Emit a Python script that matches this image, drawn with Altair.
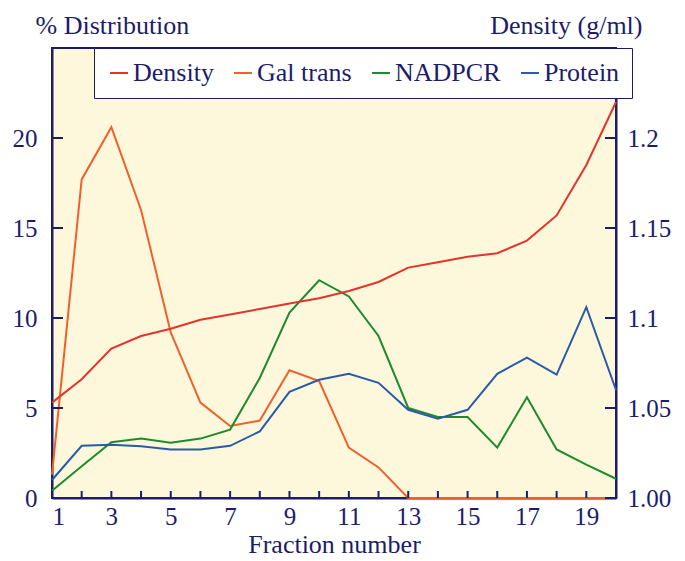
import altair as alt
import pandas as pd

# ---- data ----
fractions = list(range(1, 21))
density = [1.053, 1.066, 1.083, 1.090, 1.094, 1.099, 1.102, 1.105, 1.108, 1.111,
           1.115, 1.120, 1.128, 1.131, 1.134, 1.136, 1.143, 1.157, 1.185, 1.220]
gal_trans = [1.3, 17.7, 20.6, 16.0, 9.2, 5.3, 4.0, 4.3, 7.1, 6.5,
             2.8, 1.7, 0, 0, 0, 0, 0, 0, 0, 0]
nadpcr = [0.4, 1.76, 3.1, 3.3, 3.07, 3.3, 3.8, 6.67, 10.3, 12.1,
          11.2, 9.0, 5.0, 4.5, 4.5, 2.8, 5.6, 2.7, 1.85, 1.07]
protein = [1.0, 2.9, 2.96, 2.87, 2.7, 2.7, 2.9, 3.7, 5.9, 6.57,
           6.9, 6.4, 4.9, 4.4, 4.9, 6.9, 7.8, 6.85, 10.6, 6.0]

series_names = ["Density", "Gal trans", "NADPCR", "Protein"]
series_colors = ["#e3342c", "#f0602c", "#1e8a2e", "#2b5ba8"]

left_ticks = [5, 10, 15, 20]
right_ticks = [1.0, 1.05, 1.1, 1.15, 1.2]
x_ticks = list(range(1, 21))

NAVY = "#1c1c6b"
FONT = "Liberation Serif"
W, H = 564, 450

left_df = pd.DataFrame(
    [{"fraction": f, "series": "Gal trans", "value": v} for f, v in zip(fractions, gal_trans)]
    + [{"fraction": f, "series": "NADPCR", "value": v} for f, v in zip(fractions, nadpcr)]
    + [{"fraction": f, "series": "Protein", "value": v} for f, v in zip(fractions, protein)]
)
right_df = pd.DataFrame({"fraction": fractions, "series": "Density", "value": density})
lt_df = pd.DataFrame({"value": left_ticks})
rt_df = pd.DataFrame({"value": right_ticks})
xt_df = pd.DataFrame({"fraction": x_ticks})

x_enc = alt.X(
    "fraction:Q",
    scale=alt.Scale(domain=[1, 20], nice=False, zero=False),
    axis=alt.Axis(
        values=x_ticks, ticks=False, grid=False,
        labelExpr="datum.value % 2 == 1 ? datum.label : ''",
        title="Fraction number", labelPadding=6, titlePadding=2,
    ),
)

y_left = alt.Y(
    "value:Q",
    scale=alt.Scale(domain=[0, 25], nice=False, zero=False),
    axis=alt.Axis(
        orient="left", values=[0, 5, 10, 15, 20], ticks=False, grid=False,
        labelPadding=15, title="% Distribution", titleAngle=0, titleAlign="left",
        titleBaseline="alphabetic", titleX=-17, titleY=-15,
    ),
)

y_right = alt.Y(
    "value:Q",
    scale=alt.Scale(domain=[1.0, 1.25], nice=False, zero=False),
    axis=alt.Axis(
        orient="right", values=right_ticks, ticks=False, grid=False,
        labelPadding=11, title="Density (g/ml)", titleAngle=0, titleAlign="right",
        titleBaseline="alphabetic", titleX=26, titleY=-15,
        labelExpr="datum.value < 1.001 ? '1.00' : toString(round(datum.value * 100) / 100)",
    ),
)

legend = alt.Legend(
    orient="none", legendX=42, legendY=0, direction="horizontal", title=None,
    symbolType="stroke", symbolSize=324, symbolStrokeWidth=2,
    labelFontSize=26, labelFont=FONT, labelColor=NAVY, labelOffset=1,
    fillColor="white", strokeColor=NAVY, padding=12, columnPadding=16,
)
color_enc = alt.Color(
    "series:N",
    scale=alt.Scale(domain=series_names, range=series_colors),
    legend=legend,
)

lines_left = alt.Chart(left_df).mark_line(strokeWidth=2).encode(
    x=x_enc, y=y_left, color=color_enc
)
ticks_left = alt.Chart(lt_df).mark_rule(color=NAVY, strokeWidth=2).encode(
    y=y_left, x=alt.value(0), x2=alt.value(11)
)
ticks_bottom = alt.Chart(xt_df).mark_rule(color=NAVY, strokeWidth=2).encode(
    x=x_enc, y=alt.value(H), y2=alt.value(H - 7)
)

line_right = alt.Chart(right_df).mark_line(strokeWidth=2).encode(
    x=x_enc, y=y_right, color=color_enc
)
ticks_right = alt.Chart(rt_df).mark_rule(color=NAVY, strokeWidth=2).encode(
    y=y_right, x=alt.value(W), x2=alt.value(W - 11)
)

left = alt.layer(lines_left, ticks_left, ticks_bottom)
right = alt.layer(line_right, ticks_right)

chart = (
    alt.layer(left, right)
    .resolve_scale(y="independent")
    .properties(
        width=W, height=H,
        autosize=alt.AutoSizeParams(type="none"),
        padding={"left": 44, "top": 40, "right": 61, "bottom": 62},
        background="white",
    )
    .configure_view(fill="#fdf8dc", stroke=NAVY, strokeWidth=2)
    .configure_axis(
        domainColor=NAVY, domainWidth=2,
        labelFont=FONT, labelFontSize=25, labelColor=NAVY,
        titleFont=FONT, titleFontSize=26, titleColor=NAVY, titleFontWeight="normal",
    )
)

chart.save("out.html", embed_options={"renderer": "svg", "actions": False})
